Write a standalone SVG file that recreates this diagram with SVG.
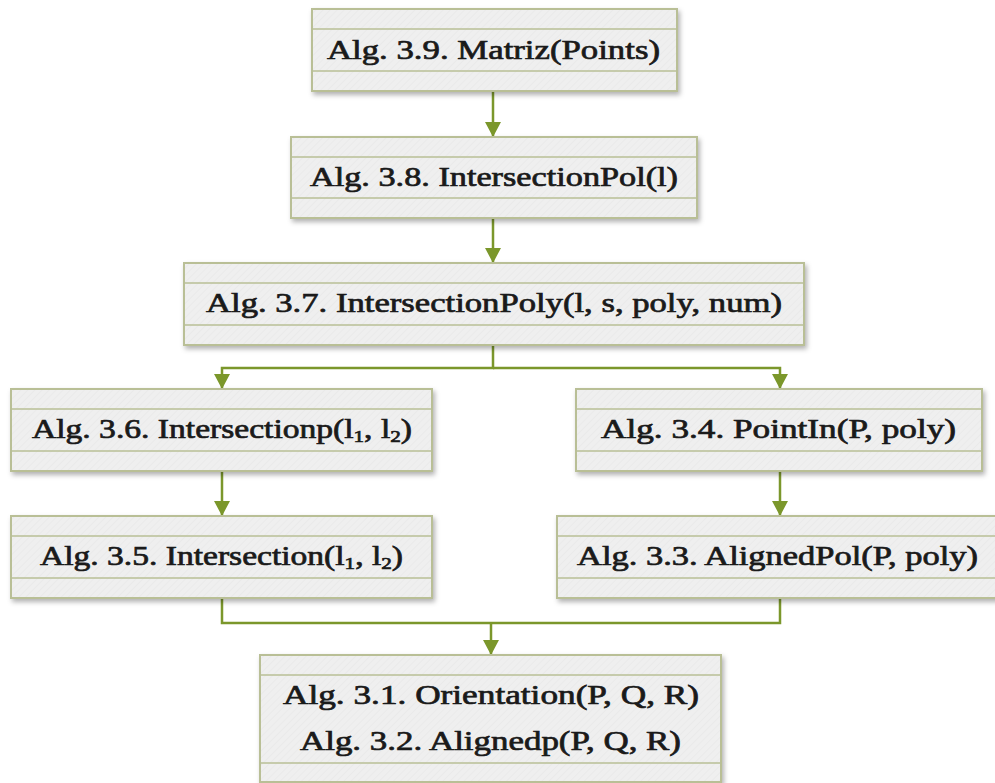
<svg xmlns="http://www.w3.org/2000/svg" width="995" height="783" viewBox="0 0 995 783">
<defs>
<pattern id="hatch" width="5" height="5" patternUnits="userSpaceOnUse" patternTransform="rotate(45)">
<rect width="5" height="5" fill="#efefef"/>
<line x1="0" y1="0" x2="0" y2="5" stroke="#e6e6e6" stroke-width="1"/>
</pattern>
<filter id="shadow" x="-5%" y="-10%" width="110%" height="130%">
<feDropShadow dx="2" dy="3" stdDeviation="2.5" flood-color="#000000" flood-opacity="0.3"/>
</filter>
<marker id="arrow" markerUnits="userSpaceOnUse" markerWidth="16" markerHeight="16" refX="15" refY="8" orient="auto">
<path d="M0,0 L15,8 L0,16 z" fill="#7b972b"/>
</marker>
</defs>
<style>
.box{fill:url(#hatch);stroke:#b9bf96;stroke-width:2;filter:url(#shadow)}
.sep{stroke:#b9bf96;stroke-width:1.5}
.lbl{font-family:"Liberation Serif","Times New Roman",serif;font-size:27px;fill:#1a1a1a;stroke:#1a1a1a;stroke-width:0.7}
.sub{font-size:17px}
.conn{fill:none;stroke:#7b972b;stroke-width:2.5}
</style>
<rect width="995" height="783" fill="#ffffff"/>
<g id="connectors">
<path class="conn" d="M493 91 V137" marker-end="url(#arrow)"/>
<path class="conn" d="M493 218 V263" marker-end="url(#arrow)"/>
<path class="conn" d="M493 345 V368 H222 V389" marker-end="url(#arrow)"/>
<path class="conn" d="M493 368 H780 V389" marker-end="url(#arrow)"/>
<path class="conn" d="M222 471 V516" marker-end="url(#arrow)"/>
<path class="conn" d="M780 471 V516" marker-end="url(#arrow)"/>
<path class="conn" d="M222 598 V623 H780 V598"/>
<path class="conn" d="M491 623 V655" marker-end="url(#arrow)"/>
</g>
<g id="n39">
<rect class="box" x="312" y="9" width="365" height="82"/>
<line class="sep" x1="312" y1="29" x2="677" y2="29"/>
<line class="sep" x1="312" y1="71" x2="677" y2="71"/>
<text class="lbl" x="327" y="59" textLength="333" lengthAdjust="spacingAndGlyphs">Alg. 3.9. Matriz(Points)</text>
</g>
<g id="n38">
<rect class="box" x="291" y="137" width="406" height="81"/>
<line class="sep" x1="291" y1="157" x2="697" y2="157"/>
<line class="sep" x1="291" y1="198" x2="697" y2="198"/>
<text class="lbl" x="310" y="186" textLength="368" lengthAdjust="spacingAndGlyphs">Alg. 3.8. IntersectionPol(l)</text>
</g>
<g id="n37">
<rect class="box" x="184" y="263" width="620" height="82"/>
<line class="sep" x1="184" y1="283" x2="804" y2="283"/>
<line class="sep" x1="184" y1="325" x2="804" y2="325"/>
<text class="lbl" x="206" y="312" textLength="576" lengthAdjust="spacingAndGlyphs">Alg. 3.7. IntersectionPoly(l, s, poly, num)</text>
</g>
<g id="n36">
<rect class="box" x="11" y="389" width="421" height="82"/>
<line class="sep" x1="11" y1="409" x2="432" y2="409"/>
<line class="sep" x1="11" y1="451" x2="432" y2="451"/>
<text class="lbl" x="32" y="438" textLength="380" lengthAdjust="spacingAndGlyphs">Alg. 3.6. Intersectionp(l<tspan class="sub" dy="4">1</tspan><tspan dy="-4">, l</tspan><tspan class="sub" dy="4">2</tspan><tspan dy="-4">)</tspan></text>
</g>
<g id="n34">
<rect class="box" x="576" y="389" width="406" height="82"/>
<line class="sep" x1="576" y1="409" x2="982" y2="409"/>
<line class="sep" x1="576" y1="451" x2="982" y2="451"/>
<text class="lbl" x="601" y="438" textLength="355" lengthAdjust="spacingAndGlyphs">Alg. 3.4. PointIn(P, poly)</text>
</g>
<g id="n35">
<rect class="box" x="11" y="516" width="421" height="82"/>
<line class="sep" x1="11" y1="536" x2="432" y2="536"/>
<line class="sep" x1="11" y1="578" x2="432" y2="578"/>
<text class="lbl" x="40" y="565" textLength="363" lengthAdjust="spacingAndGlyphs">Alg. 3.5. Intersection(l<tspan class="sub" dy="4">1</tspan><tspan dy="-4">, l</tspan><tspan class="sub" dy="4">2</tspan><tspan dy="-4">)</tspan></text>
</g>
<g id="n33">
<rect class="box" x="557" y="516" width="441" height="82"/>
<line class="sep" x1="557" y1="536" x2="998" y2="536"/>
<line class="sep" x1="557" y1="578" x2="998" y2="578"/>
<text class="lbl" x="577" y="565" textLength="401" lengthAdjust="spacingAndGlyphs">Alg. 3.3. AlignedPol(P, poly)</text>
</g>
<g id="n31">
<rect class="box" x="260" y="655" width="461" height="127"/>
<line class="sep" x1="260" y1="675" x2="721" y2="675"/>
<line class="sep" x1="260" y1="763" x2="721" y2="763"/>
<text class="lbl" x="283" y="704" textLength="416" lengthAdjust="spacingAndGlyphs">Alg. 3.1. Orientation(P, Q, R)</text>
<text class="lbl" x="300" y="750" textLength="381" lengthAdjust="spacingAndGlyphs">Alg. 3.2. Alignedp(P, Q, R)</text>
</g>
</svg>
